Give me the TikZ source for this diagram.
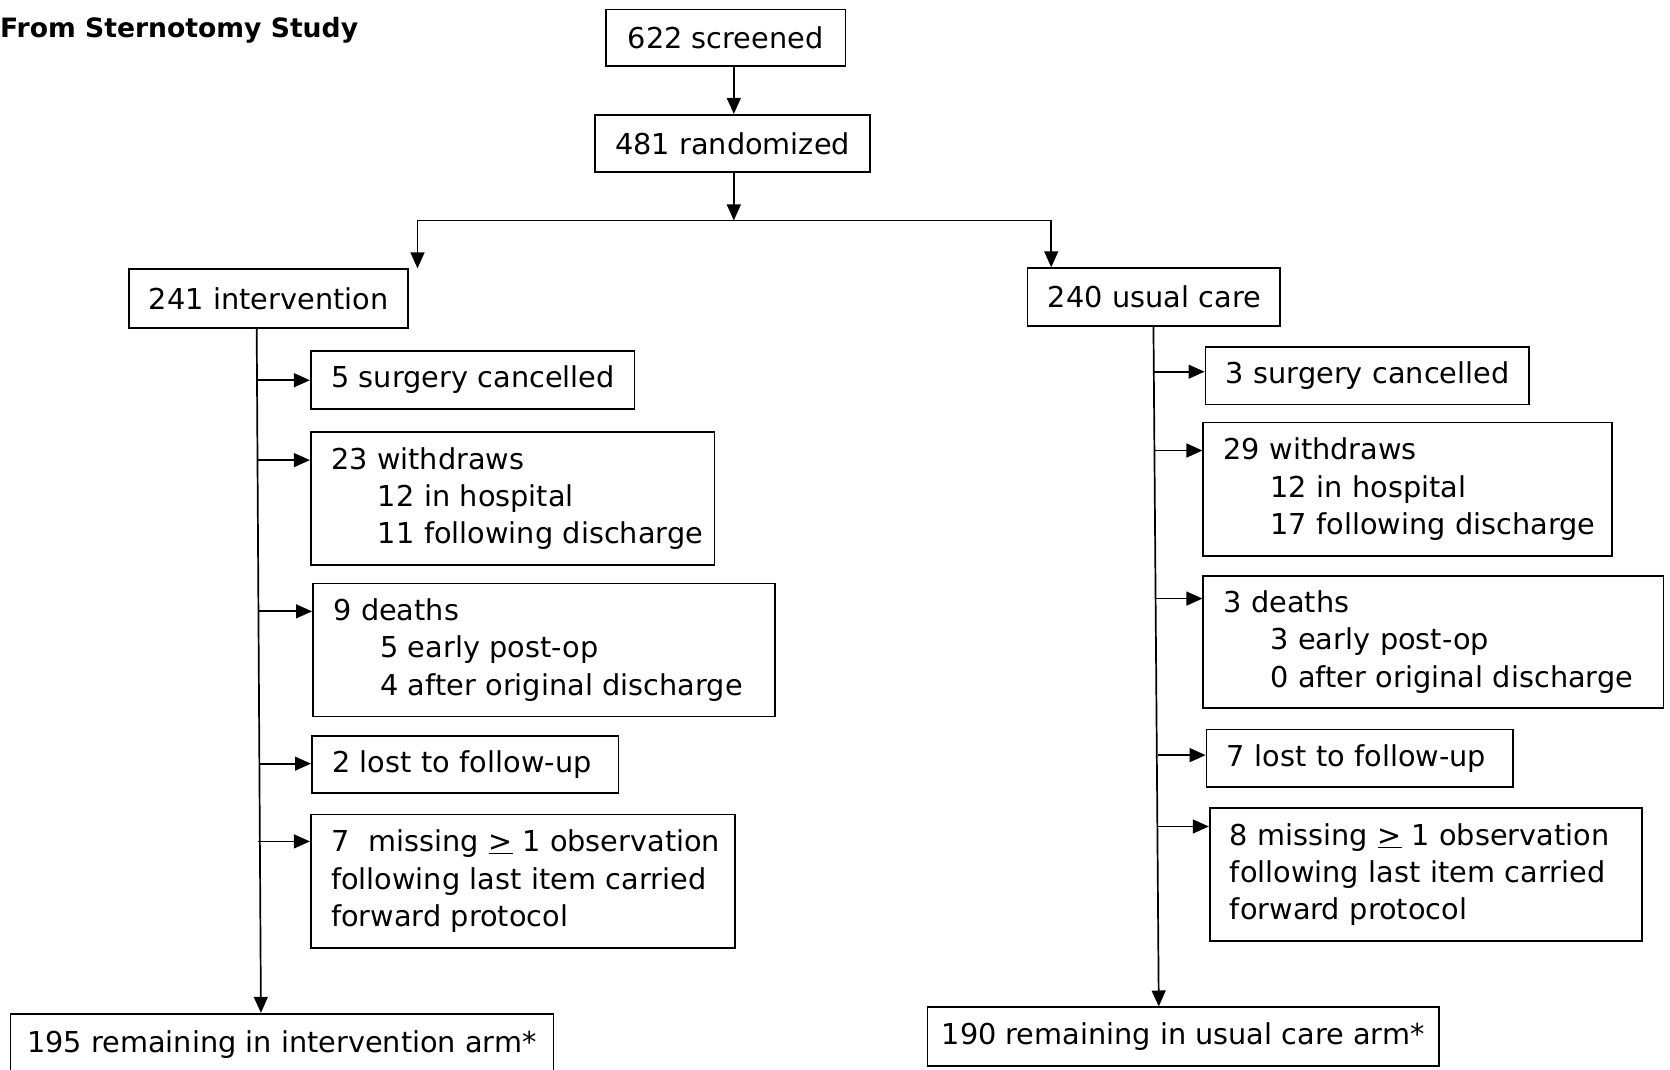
\documentclass[tikz,border=0pt]{standalone}
\usepackage{fontspec}
\setmainfont{DejaVu Sans}
\usetikzlibrary{arrows.meta}
\newcommand{\bxline}[1]{\mbox{#1}}
\newcommand{\bxind}[1]{\mbox{\hspace*{44pt}#1}}
\begin{document}
\begin{tikzpicture}[x=1pt,y=-1pt,
  every node/.style={font=\fontsize{27}{35}\selectfont},
  box/.style={draw, line width=1.6pt, anchor=north west, inner xsep=19pt, inner ysep=0pt},
  cbox/.style={box, align=center},
  lbox/.style={box, align=left},
  ebox/.style={cbox, inner xsep=6pt},
  arr/.style={line width=1.6pt, -{Triangle[length=15pt,width=13pt]}},
  lnk/.style={line width=1.6pt}]
\useasboundingbox (0,0) rectangle (1568,1004);
\node[anchor=west, inner sep=0pt, font=\fontsize{25}{30}\selectfont\bfseries] (title) at (0,28) {From Sternotomy Study};
% top
\node[cbox, minimum width=225pt, minimum height=53pt] (scr) at (568,8) {622 screened};
\node[cbox, minimum width=252pt, minimum height=54pt] (rand) at (558,107) {481 randomized};
\node[lbox, text width=224pt, minimum height=55pt] (int) at (120,252) {\bxline{241 intervention}};
\node[lbox, text width=199pt, minimum height=54pt] (usu) at (964,251) {\bxline{240 usual care}};
% left branch
\node[lbox, text width=266pt, minimum height=54pt] (L1) at (291,329) {\bxline{5 surgery cancelled}};
\node[lbox, text width=341pt, minimum height=125pt] (L2) at (291,405) {\bxline{23 withdraws}\\\bxind{12 in hospital}\\\bxind{11 following discharge}};
\node[lbox, text width=396pt, minimum height=125pt] (L3) at (293,547) {\bxline{9 deaths}\\\bxind{5 early post-op}\\\bxind{4 after original discharge}};
\node[lbox, text width=250pt, minimum height=54pt] (L4) at (292,690) {\bxline{2 lost to follow-up}};
\node[lbox, text width=360pt, minimum height=125pt] (L5) at (291,764) {\bxline{7\ \ missing \underline{>} 1 observation}\\\bxline{following last item carried}\\\bxline{forward protocol}};
\node[ebox, minimum width=510pt, minimum height=57pt] (Lend) at (9,951) {195 remaining in intervention arm*};
% right branch
\node[lbox, text width=266pt, minimum height=54pt] (R1) at (1131,325) {\bxline{3 surgery cancelled}};
\node[lbox, text width=346pt, minimum height=125pt] (R2) at (1129,396) {\bxline{29 withdraws}\\\bxind{12 in hospital}\\\bxind{17 following discharge}};
\node[lbox, text width=394pt, minimum height=124pt] (R3) at (1129,540) {\bxline{3 deaths}\\\bxind{3 early post-op}\\\bxind{0 after original discharge}};
\node[lbox, text width=250pt, minimum height=54pt] (R4) at (1132,684) {\bxline{7 lost to follow-up}};
\node[lbox, text width=368pt, minimum height=125pt] (R5) at (1135,758) {\bxline{8 missing \underline{>} 1 observation}\\\bxline{following last item carried}\\\bxline{forward protocol}};
\node[ebox, minimum width=480pt, minimum height=55pt] (Rend) at (870,945) {190 remaining in usual care arm*};
% connectors top
\draw[arr] (689,0 |- scr.south) -- (689,0 |- rand.north);
\coordinate (split) at (689,207);
\coordinate (sl) at (392,207);
\coordinate (sr) at (987,207);
\draw[arr] (689,0 |- rand.south) -- (split);
\draw[lnk] (sl) -- (sr);
\draw[arr] (sl) -- (sl |- int.north);
\draw[arr] (sr) -- (sr |- usu.north);
% left trunk
\coordinate (lt) at (241,0 |- int.south);
\coordinate (lb) at (245,0 |- Lend.north);
\draw[arr] (lt) -- (lb);
\draw[arr] (242,357) -- (L1.west |- 0,357);
\draw[arr] (242,432) -- (L2.west |- 0,432);
\draw[arr] (243,574) -- (L3.west |- 0,574);
\draw[arr] (244,717) -- (L4.west |- 0,717);
\draw[arr] (242,790) -- (L5.west |- 0,790);
% right trunk
\coordinate (rt) at (1083,0 |- usu.south);
\coordinate (rb) at (1088,0 |- Rend.north);
\draw[arr] (rt) -- (rb);
\draw[arr] (1083,349) -- (R1.west |- 0,349);
\draw[arr] (1084,423) -- (R2.west |- 0,423);
\draw[arr] (1085,562) -- (R3.west |- 0,562);
\draw[arr] (1087,709) -- (R4.west |- 0,709);
\draw[arr] (1087,776) -- (R5.west |- 0,776);
\end{tikzpicture}
\end{document}
